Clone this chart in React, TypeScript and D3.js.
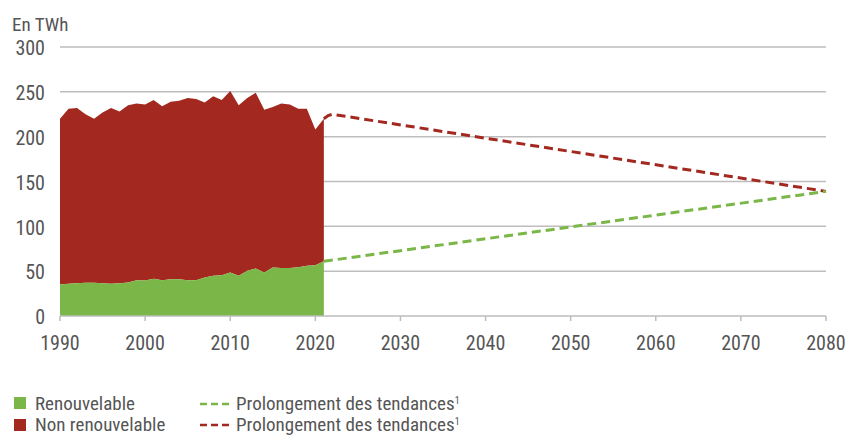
import * as d3 from 'd3';

// Années historiques
const years = d3.range(1990, 2022);

// Consommation renouvelable (TWh)
const renouvelable = [
  35, 36, 36.5, 37, 37, 36.5, 36, 36.5, 37.5, 40, 39.5, 41.5, 40, 41, 41, 40,
  40, 43, 45, 45.5, 48.5, 45, 50.5, 53, 48.5, 54, 53.5, 53.5, 54.5, 56, 56.5, 61,
];

// Consommation non renouvelable (TWh)
const nonRenouvelable = [
  185, 195, 195.5, 188, 183, 190.5, 196, 191.5, 197.5, 197, 196.5, 199.5, 194, 198, 199, 203,
  202, 195, 200, 195.5, 202.5, 190, 192.5, 196, 181.5, 179, 183.5, 182.5, 176.5, 175, 151.5, 159,
];

// Prolongement des tendances
const tendanceAnnees = [2021, 2080];
const tendanceRenouvelable = [61, 139];
const tendanceTotalAnnees = [2021, 2021.5, 2022, 2080];
const tendanceTotal = [220, 223.5, 225, 139];

const xTicks = [1990, 2000, 2010, 2020, 2030, 2040, 2050, 2060, 2070, 2080];
const yTicks = [0, 50, 100, 150, 200, 250, 300];

const GREEN = '#7ab648';
const RED = '#a32920';
const FONT = '"Liberation Sans Narrow", "Arial Narrow", "Roboto Condensed", Roboto, sans-serif';

export default function App() {
  const width = 849;
  const height = 436;

  const x = d3.scaleLinear().domain([1990, 2080]).range([60, 826]);
  const y = d3.scaleLinear().domain([0, 300]).range([316, 47]);

  const rows = years.map((yr, i) => ({ yr, r: renouvelable[i], n: nonRenouvelable[i] }));

  const areaRenouv = d3.area<any>()
    .x(d => x(d.yr))
    .y0(y(0))
    .y1(d => y(d.r));

  const areaNon = d3.area<any>()
    .x(d => x(d.yr))
    .y0(d => y(d.r))
    .y1(d => y(d.r + d.n));

  const line = d3.line<[number, number]>()
    .x(d => x(d[0]))
    .y(d => y(d[1]));

  const greenPts = tendanceAnnees.map((a, i) => [a, tendanceRenouvelable[i]] as [number, number]);
  const redPts = tendanceTotalAnnees.map((a, i) => [a, tendanceTotal[i]] as [number, number]);

  return (
    <svg width={width} height={height} style={{ display: 'block', position: 'absolute', left: 0, top: 0 }}>
      <rect width={width} height={height} fill="#fff" />
      <g fontFamily={FONT} fill="#555">
        <text x={12} y={31} fontSize={19}>En TWh</text>
        {yTicks.map(t => (
          <g key={t}>
            {t > 0 && (
              <line x1={x(1990)} x2={x(2080)} y1={y(t)} y2={y(t)} stroke="#bdbdbd" strokeWidth={1.5} />
            )}
            <text x={45} y={y(t) + 1} dy="0.36em" textAnchor="end" fontSize={20}>{t}</text>
          </g>
        ))}
      </g>

      <path d={areaNon(rows) || ''} fill={RED} />
      <path d={areaRenouv(rows) || ''} fill={GREEN} />

      <path d={line(redPts) || ''} fill="none" stroke={RED} strokeWidth={3} strokeDasharray="9 5" />
      <path d={line(greenPts) || ''} fill="none" stroke={GREEN} strokeWidth={3} strokeDasharray="9 5" />

      <line x1={x(1990)} x2={x(2080)} y1={y(0)} y2={y(0)} stroke="#bdbdbd" strokeWidth={1.5} />
      <g fontFamily={FONT} fill="#555">
        {xTicks.map(t => (
          <g key={t}>
            <line x1={x(t)} x2={x(t)} y1={y(0)} y2={y(0) + 5} stroke="#bdbdbd" strokeWidth={1.5} />
            <text x={x(t)} y={343} dy="0.36em" textAnchor="middle" fontSize={20}>{t}</text>
          </g>
        ))}
      </g>

      <g fontFamily={FONT} fill="#555" fontSize={19}>
        <rect x={14} y={397} width={12} height={12} fill={GREEN} />
        <text x={35} y={403} dy="0.36em">Renouvelable</text>
        <rect x={14} y={419} width={12} height={12} fill={RED} />
        <text x={35} y={424} dy="0.36em">Non renouvelable</text>

        <line x1={200} x2={229} y1={404} y2={404} stroke={GREEN} strokeWidth={2.5} strokeDasharray="7 4" />
        <text x={236} y={403} dy="0.36em">Prolongement des tendances<tspan fontSize={10} dy="-0.6em">1</tspan></text>
        <line x1={200} x2={229} y1={425} y2={425} stroke={RED} strokeWidth={2.5} strokeDasharray="7 4" />
        <text x={236} y={424} dy="0.36em">Prolongement des tendances<tspan fontSize={10} dy="-0.6em">1</tspan></text>
      </g>
    </svg>
  );
}
